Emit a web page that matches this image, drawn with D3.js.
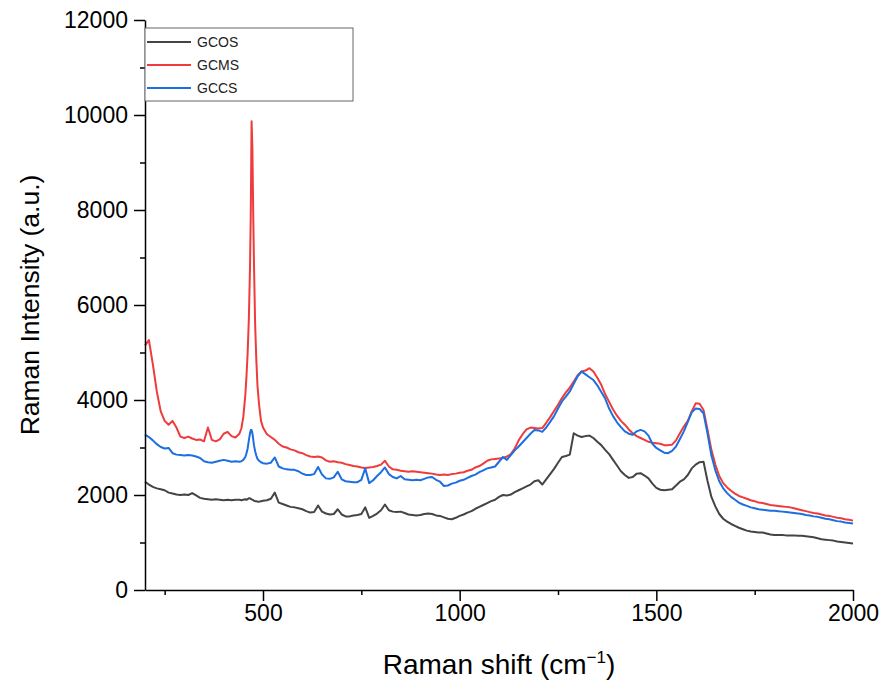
<!DOCTYPE html>
<html>
<head>
<meta charset="utf-8">
<script src="https://cdn.jsdelivr.net/npm/d3@7"></script>
<style>
    body { margin: 0; background: #fff; }
    text { font-family: "Liberation Sans", Arial, sans-serif; }
</style>
</head>
<body>
<div id="chart"></div>
<script>
// Raman shift grid (cm-1): coarse, finer round the 471 peak, coarse again
let shiftLow = d3.range(200, 440, 10);
let shiftPeak = [440, 445, 450, 455, 458, 461, 464, 467, 469, 471, 473, 475, 477, 480, 483, 486, 490, 495];
let shiftHigh = d3.range(500, 2001, 10);
let shift = shiftLow.concat(shiftPeak, shiftHigh);

let seriesNames = ["GCOS", "GCMS", "GCCS"];
let seriesColors = ["#444444", "#ef3b3b", "#1c6fe0"];

let gcos = [
    2280, 2220, 2170, 2140, 2120, 2100, 2050, 2030, 2010, 2000,
    2010, 2000, 2040, 1990, 1940, 1920, 1910, 1900, 1910, 1900,
    1890, 1900, 1890, 1900,
    // peak region
    1900, 1890, 1900, 1910, 1900, 1910, 1930, 1930, 1920, 1910, 1900, 1890, 1880, 1870, 1870, 1860, 1860, 1870,
    // 500 ->
    1880, 1890, 1920, 2050, 1840, 1810, 1780, 1750, 1740, 1720,
    1700, 1660, 1630, 1640, 1780, 1650, 1610, 1590, 1600, 1700,
    1590, 1550, 1550, 1570, 1580, 1600, 1740, 1520, 1560, 1610,
    1680, 1800, 1680, 1650, 1640, 1650, 1620, 1590, 1580, 1570,
    1580, 1600, 1610, 1600, 1570, 1560, 1530, 1500, 1490, 1520,
    1560, 1590, 1630, 1660, 1710, 1750, 1790, 1830, 1870, 1900,
    1960, 2000, 1990, 2010, 2060, 2100, 2140, 2180, 2220, 2290,
    2310, 2220, 2330, 2440, 2550, 2680, 2800, 2820, 2850, 3300,
    3250, 3220, 3240, 3250, 3200, 3120, 3050, 2950, 2860, 2740,
    2620, 2500, 2420, 2360, 2380, 2450, 2460, 2410, 2350, 2240,
    2150, 2110, 2100, 2110, 2120, 2200, 2280, 2330, 2420, 2560,
    2640, 2690, 2700, 2300, 1960, 1760, 1600, 1500, 1440, 1390,
    1350, 1310, 1280, 1250, 1230, 1220, 1210, 1210, 1190, 1170,
    1160, 1160, 1160, 1150, 1150, 1150, 1140, 1140, 1130, 1120,
    1110, 1090, 1070, 1060, 1050, 1040, 1020, 1010, 1000, 990,
    980
];

let gcms = [
    5150, 5260, 4750, 4180, 3760, 3560, 3480, 3560, 3420, 3230,
    3200, 3230, 3190, 3160, 3170, 3130, 3420, 3160, 3130, 3170,
    3290, 3330, 3240, 3210,
    // peak region
    3290, 3400, 3650, 4100, 4500, 5000, 5700, 6800, 8000, 9870, 9300, 8000, 6900, 5600, 4850, 4300, 3900, 3560,
    // 500 ->
    3420, 3280, 3220, 3160, 3080, 3020, 3000, 2960, 2940, 2900,
    2880, 2840, 2810, 2800, 2810, 2790, 2730, 2700, 2710, 2690,
    2680, 2650, 2630, 2610, 2600, 2580, 2570, 2580, 2590, 2610,
    2640, 2720, 2600, 2540, 2530, 2510, 2500, 2490, 2500, 2490,
    2480, 2470, 2460, 2450, 2430, 2420, 2430, 2420, 2440, 2450,
    2470, 2480, 2510, 2530, 2580, 2610, 2660, 2720, 2750, 2760,
    2770, 2780, 2810, 2860, 2980, 3150, 3280, 3380, 3420, 3410,
    3400, 3410, 3520, 3640, 3770, 3900, 4040, 4160, 4260, 4390,
    4520, 4600, 4620, 4670, 4600, 4470, 4320, 4120, 3960, 3800,
    3670, 3560, 3480, 3380, 3300, 3240, 3200, 3160, 3120, 3100,
    3090, 3080, 3050, 3050, 3060, 3150, 3300, 3440, 3560, 3760,
    3930, 3920, 3790, 3380, 2950, 2640, 2400, 2250, 2160, 2090,
    2030, 1980, 1950, 1920, 1890, 1870, 1840, 1830, 1810, 1790,
    1780, 1770, 1760, 1750, 1740, 1720, 1700, 1680, 1660, 1640,
    1620, 1610, 1590, 1570, 1560, 1540, 1520, 1510, 1490, 1480,
    1460
];

let gccs = [
    3270, 3220, 3150, 3070, 3010, 2980, 2990, 2880, 2850, 2840,
    2830, 2840, 2830, 2810, 2780, 2710, 2690, 2680, 2700, 2720,
    2740, 2720, 2700, 2710,
    // peak region
    2700, 2710, 2740, 2800, 2880, 2980, 3150, 3300, 3370, 3370, 3300, 3180, 3050, 2920, 2830, 2760, 2720, 2690,
    // 500 ->
    2670, 2660, 2680, 2790, 2600, 2560, 2540, 2530, 2530, 2500,
    2450, 2420, 2420, 2440, 2590, 2430, 2350, 2340, 2370, 2490,
    2330, 2290, 2280, 2270, 2270, 2320, 2560, 2250, 2310, 2400,
    2480, 2580, 2440, 2380, 2350, 2400, 2330, 2320, 2310, 2320,
    2310, 2340, 2370, 2380, 2320, 2280, 2190, 2200, 2240, 2260,
    2300, 2320, 2360, 2400, 2430, 2480, 2520, 2560, 2580, 2600,
    2700, 2800, 2740, 2840, 2940, 3020, 3110, 3200, 3290, 3370,
    3360, 3330, 3420, 3540, 3660, 3820, 3970, 4070, 4180, 4340,
    4500, 4600, 4540, 4480, 4420, 4310, 4170, 4030, 3820, 3660,
    3530, 3430, 3340, 3290, 3270, 3340, 3370, 3340, 3250, 3080,
    2990, 2940, 2890, 2880, 2930, 3020, 3180, 3340, 3540, 3740,
    3820, 3810, 3720, 3300, 2830, 2520, 2290, 2140, 2040, 1960,
    1900, 1840, 1800, 1770, 1740, 1720, 1700, 1690, 1680, 1670,
    1670, 1660, 1650, 1640, 1630, 1620, 1610, 1600, 1580, 1570,
    1550, 1540, 1520, 1500, 1490, 1470, 1450, 1440, 1420, 1410,
    1400
];

let xTicks = [500, 1000, 1500, 2000];
let yTicks = [0, 2000, 4000, 6000, 8000, 10000, 12000];

let width = 882;
let height = 683;
let margin = {left: 145, right: 29, top: 20, bottom: 93}; //px

let svg = d3.select("#chart")
    .append("svg")
    .attr("width", width)
    .attr("height", height);

let x = d3.scaleLinear()
    .domain([200, 2000])
    .range([margin.left, width - margin.right]);

let y = d3.scaleLinear()
    .domain([0, 12000])
    .range([height - margin.bottom, margin.top]);

/*---------------
 // lines
 ----------------*/
let allSeries = [gcos, gcms, gccs];

let line = d3.line()
    .x((d, i) => x(shift[i]))
    .y(d => y(d));

allSeries.forEach((s, si) => {
    svg.append("path")
        .datum(s)
        .attr("fill", "none")
        .attr("stroke", seriesColors[si])
        .attr("stroke-width", 2)
        .attr("stroke-linejoin", "round")
        .attr("d", line);
});

/*---------------
 // axes
 ----------------*/
let xMinor = d3.range(250, 2001, 250).filter(d => xTicks.indexOf(d) < 0);
let yMinor = d3.range(1000, 12000, 2000);

svg.append("g")
    .attr("transform", "translate(0," + (height - margin.bottom) + ")")
    .call(d3.axisBottom(x).tickValues(xMinor).tickSize(5).tickFormat(""))
    .call(g => g.select(".domain").remove())
    .selectAll("line").attr("stroke-width", 1.5);

let xAxis = svg.append("g")
    .attr("transform", "translate(0," + (height - margin.bottom) + ")")
    .call(d3.axisBottom(x).tickValues(xTicks).tickSize(11).tickSizeOuter(0).tickPadding(4).tickFormat(d3.format("d")));

svg.append("g")
    .attr("transform", "translate(" + margin.left + ",0)")
    .call(d3.axisLeft(y).tickValues(yMinor).tickSize(5).tickFormat(""))
    .call(g => g.select(".domain").remove())
    .selectAll("line").attr("stroke-width", 1.5);

let yAxis = svg.append("g")
    .attr("transform", "translate(" + margin.left + ",0)")
    .call(d3.axisLeft(y).tickValues(yTicks).tickSize(11).tickSizeOuter(0).tickPadding(6).tickFormat(d3.format("d")));

[xAxis, yAxis].forEach(g => {
    g.select(".domain").attr("stroke-width", 1.5);
    g.selectAll(".tick line").attr("stroke-width", 1.5);
    g.selectAll(".tick text")
        .attr("font-size", "23px")
        .attr("font-family", "'Liberation Sans', Arial, sans-serif")
        .attr("fill", "#000");
});

// axis titles
let yLabelCenter = {x: 39, y: 305};
svg.append("text")
    .attr("x", yLabelCenter.x)
    .attr("y", yLabelCenter.y)
    .attr("text-anchor", "middle")
    .attr("font-size", "26.5px")
    .attr("transform", "rotate(-90," + yLabelCenter.x + "," + yLabelCenter.y + ")")
    .text("Raman Intensity (a.u.)");

let xTitle = svg.append("text")
    .attr("x", (margin.left + width - margin.right) / 2)
    .attr("y", 674)
    .attr("text-anchor", "middle")
    .attr("font-size", "28px");
xTitle.append("tspan").text("Raman shift (cm");
xTitle.append("tspan").attr("font-size", "17px").attr("dy", -11).text("\u22121");
xTitle.append("tspan").attr("dy", 11).text(")");

/*---------------
 // legend
 ----------------*/
let legend = svg.append("g")
    .attr("transform", "translate(" + margin.left + ",28)");

legend.append("rect")
    .attr("x", 0)
    .attr("y", 0)
    .attr("width", 208)
    .attr("height", 73)
    .attr("fill", "#fff")
    .attr("stroke", "#666")
    .attr("stroke-width", 1);

seriesNames.forEach((name, i) => {
    let yy = 14 + i * 23;
    legend.append("line")
        .attr("x1", 2)
        .attr("x2", 46)
        .attr("y1", yy)
        .attr("y2", yy)
        .attr("stroke", seriesColors[i])
        .attr("stroke-width", 2);
    legend.append("text")
        .attr("x", 52)
        .attr("y", yy + 5)
        .attr("font-family", "'Open Sans', 'Noto Sans', sans-serif")
        .attr("font-size", "14px")
        .attr("fill", "#222")
        .text(name);
});
</script>
</body>
</html>
